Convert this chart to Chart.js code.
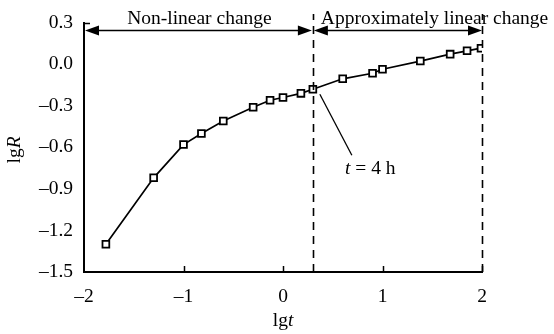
<!DOCTYPE html>
<html>
<head>
<meta charset="utf-8">
<script src="https://cdn.jsdelivr.net/npm/chart.js@4"></script>
<style>
html,body{margin:0;padding:0;background:#fff;}
#wrap{width:554px;height:334px;position:relative;}
</style>
</head>
<body>
<div id="wrap"><canvas id="c" width="554" height="334"></canvas></div>
<script>
const lgT = [-1.78, -1.30, -1.00, -0.82, -0.60, -0.30, -0.13, 0.00, 0.18, 0.30, 0.60, 0.90, 1.00, 1.38, 1.68, 1.85, 1.99];
const lgR = [-1.30, -0.82, -0.58, -0.50, -0.41, -0.31, -0.26, -0.24, -0.21, -0.18, -0.105, -0.065, -0.036, 0.023, 0.073, 0.097, 0.116];
const xTicks = [-2, -1, 0, 1, 2];
const yTicks = [0.3, 0.0, -0.3, -0.6, -0.9, -1.2, -1.5];
const boundaryX = [0.3, 2];
const regionLabels = ["Non-linear change", "Approximately linear change"];
const annotation = {t: "t", rest: " = 4 h"};

const FONT = "'Liberation Serif', 'Times New Roman', serif";
const FS = 19.5;
const fmt = v => { const s = (Math.abs(v) < 1e-9 ? 0 : v).toFixed(Number.isInteger(v) ? 0 : 1); return s.replace('-', '\u2013'); };

const overlay = {
  id: 'overlay',
  afterDraw(chart) {
    const ctx = chart.ctx, xs = chart.scales.x, ys = chart.scales.y;
    const top = ys.getPixelForValue(0.3), bottom = ys.getPixelForValue(-1.5);
    const left = xs.getPixelForValue(-2);
    ctx.save();
    ctx.strokeStyle = '#000'; ctx.fillStyle = '#000';
    ctx.lineWidth = 1.5;
    xTicks.forEach(v => {
      if (v === -2) return;
      const px = Math.round(xs.getPixelForValue(v)) + 0.5;
      ctx.beginPath(); ctx.moveTo(px, bottom); ctx.lineTo(px, bottom - 6); ctx.stroke();
    });
    ctx.beginPath(); ctx.moveTo(left, Math.round(top) + 0.5); ctx.lineTo(left + 6, Math.round(top) + 0.5); ctx.stroke();
    ctx.setLineDash([8, 6]);
    ctx.lineWidth = 1.6;
    boundaryX.forEach(v => {
      const px = Math.round(xs.getPixelForValue(v)) + 0.5;
      ctx.beginPath(); ctx.moveTo(px, bottom); ctx.lineTo(px, 14); ctx.stroke();
    });
    ctx.setLineDash([]);
    const ay = 30.5;
    function arrow(x1, x2) {
      ctx.lineWidth = 1.6;
      ctx.beginPath(); ctx.moveTo(x1 + 10, ay); ctx.lineTo(x2 - 10, ay); ctx.stroke();
      ctx.beginPath(); ctx.moveTo(x1, ay); ctx.lineTo(x1 + 14, ay - 5); ctx.lineTo(x1 + 14, ay + 5); ctx.closePath(); ctx.fill();
      ctx.beginPath(); ctx.moveTo(x2, ay); ctx.lineTo(x2 - 14, ay - 5); ctx.lineTo(x2 - 14, ay + 5); ctx.closePath(); ctx.fill();
    }
    const b0 = xs.getPixelForValue(boundaryX[0]), b1 = xs.getPixelForValue(boundaryX[1]);
    arrow(left + 1, b0 - 1);
    arrow(b0 + 1, b1);
    ctx.font = FS + 'px ' + FONT;
    ctx.textBaseline = 'alphabetic';
    ctx.textAlign = 'center';
    ctx.fillText(regionLabels[0], (left + b0) / 2 + 1, 24);
    ctx.textAlign = 'left';
    ctx.fillText(regionLabels[1], b0 + 8, 24);
    const px0 = xs.getPixelForValue(0.3), py0 = ys.getPixelForValue(-0.18);
    ctx.lineWidth = 1.3;
    ctx.beginPath(); ctx.moveTo(px0 + 7, py0 + 5); ctx.lineTo(px0 + 39, py0 + 66); ctx.stroke();
    ctx.textAlign = 'left';
    let tx = 345, ty = 174;
    ctx.font = 'italic ' + FS + 'px ' + FONT;
    ctx.fillText(annotation.t, tx, ty);
    tx += ctx.measureText(annotation.t).width;
    ctx.font = FS + 'px ' + FONT;
    ctx.fillText(annotation.rest, tx, ty);
    ctx.font = FS + 'px ' + FONT;
    const w1 = ctx.measureText('lg').width;
    ctx.font = 'italic ' + FS + 'px ' + FONT;
    const w2 = ctx.measureText('t').width;
    let sx = 283 - (w1 + w2) / 2;
    ctx.font = FS + 'px ' + FONT; ctx.fillText('lg', sx, 326);
    ctx.font = 'italic ' + FS + 'px ' + FONT; ctx.fillText('t', sx + w1, 326);
    ctx.translate(20, 150);
    ctx.rotate(-Math.PI / 2);
    ctx.font = 'italic ' + FS + 'px ' + FONT;
    const w3 = ctx.measureText('R').width;
    sx = -(w1 + w3) / 2;
    ctx.font = FS + 'px ' + FONT; ctx.fillText('lg', sx, 0);
    ctx.font = 'italic ' + FS + 'px ' + FONT; ctx.fillText('R', sx + w1, 0);
    ctx.restore();
  }
};

new Chart(document.getElementById('c'), {
  type: 'scatter',
  data: {
    datasets: [{
      data: lgT.map((x, i) => ({x, y: lgR[i]})),
      showLine: true,
      borderColor: '#000',
      borderWidth: 1.7,
      pointStyle: 'rect',
      pointRadius: 4.8,
      pointBorderWidth: 1.8,
      pointBackgroundColor: '#fff',
      pointBorderColor: '#000',
      tension: 0
    }]
  },
  options: {
    responsive: false,
    animation: false,
    devicePixelRatio: 1,
    layout: {padding: {top: 17.5, right: 72, left: 0, bottom: 0}},
    plugins: {legend: {display: false}, tooltip: {enabled: false}},
    scales: {
      x: {
        type: 'linear', min: -2, max: 2,
        afterFit: s => { s.height = 62; },
        afterBuildTicks: s => { s.ticks = xTicks.map(v => ({value: v})); },
        grid: {display: true, drawOnChartArea: false, drawTicks: false},
        border: {display: true, color: '#000', width: 2},
        ticks: {color: '#000', font: {family: FONT, size: FS}, padding: 13, callback: v => fmt(v), maxRotation: 0}
      },
      y: {
        type: 'linear', min: -1.5, max: 0.3,
        afterFit: s => { s.width = 84; },
        afterBuildTicks: s => { s.ticks = yTicks.map(v => ({value: v})); },
        grid: {display: true, drawOnChartArea: false, drawTicks: false},
        border: {display: true, color: '#000', width: 2},
        ticks: {color: '#000', font: {family: FONT, size: FS}, padding: 11, callback: v => { const s = Math.abs(v) < 1e-9 ? '0.0' : v.toFixed(1); return s.replace('-', '\u2013'); }}
      }
    }
  },
  plugins: [overlay]
});
</script>
</body>
</html>
